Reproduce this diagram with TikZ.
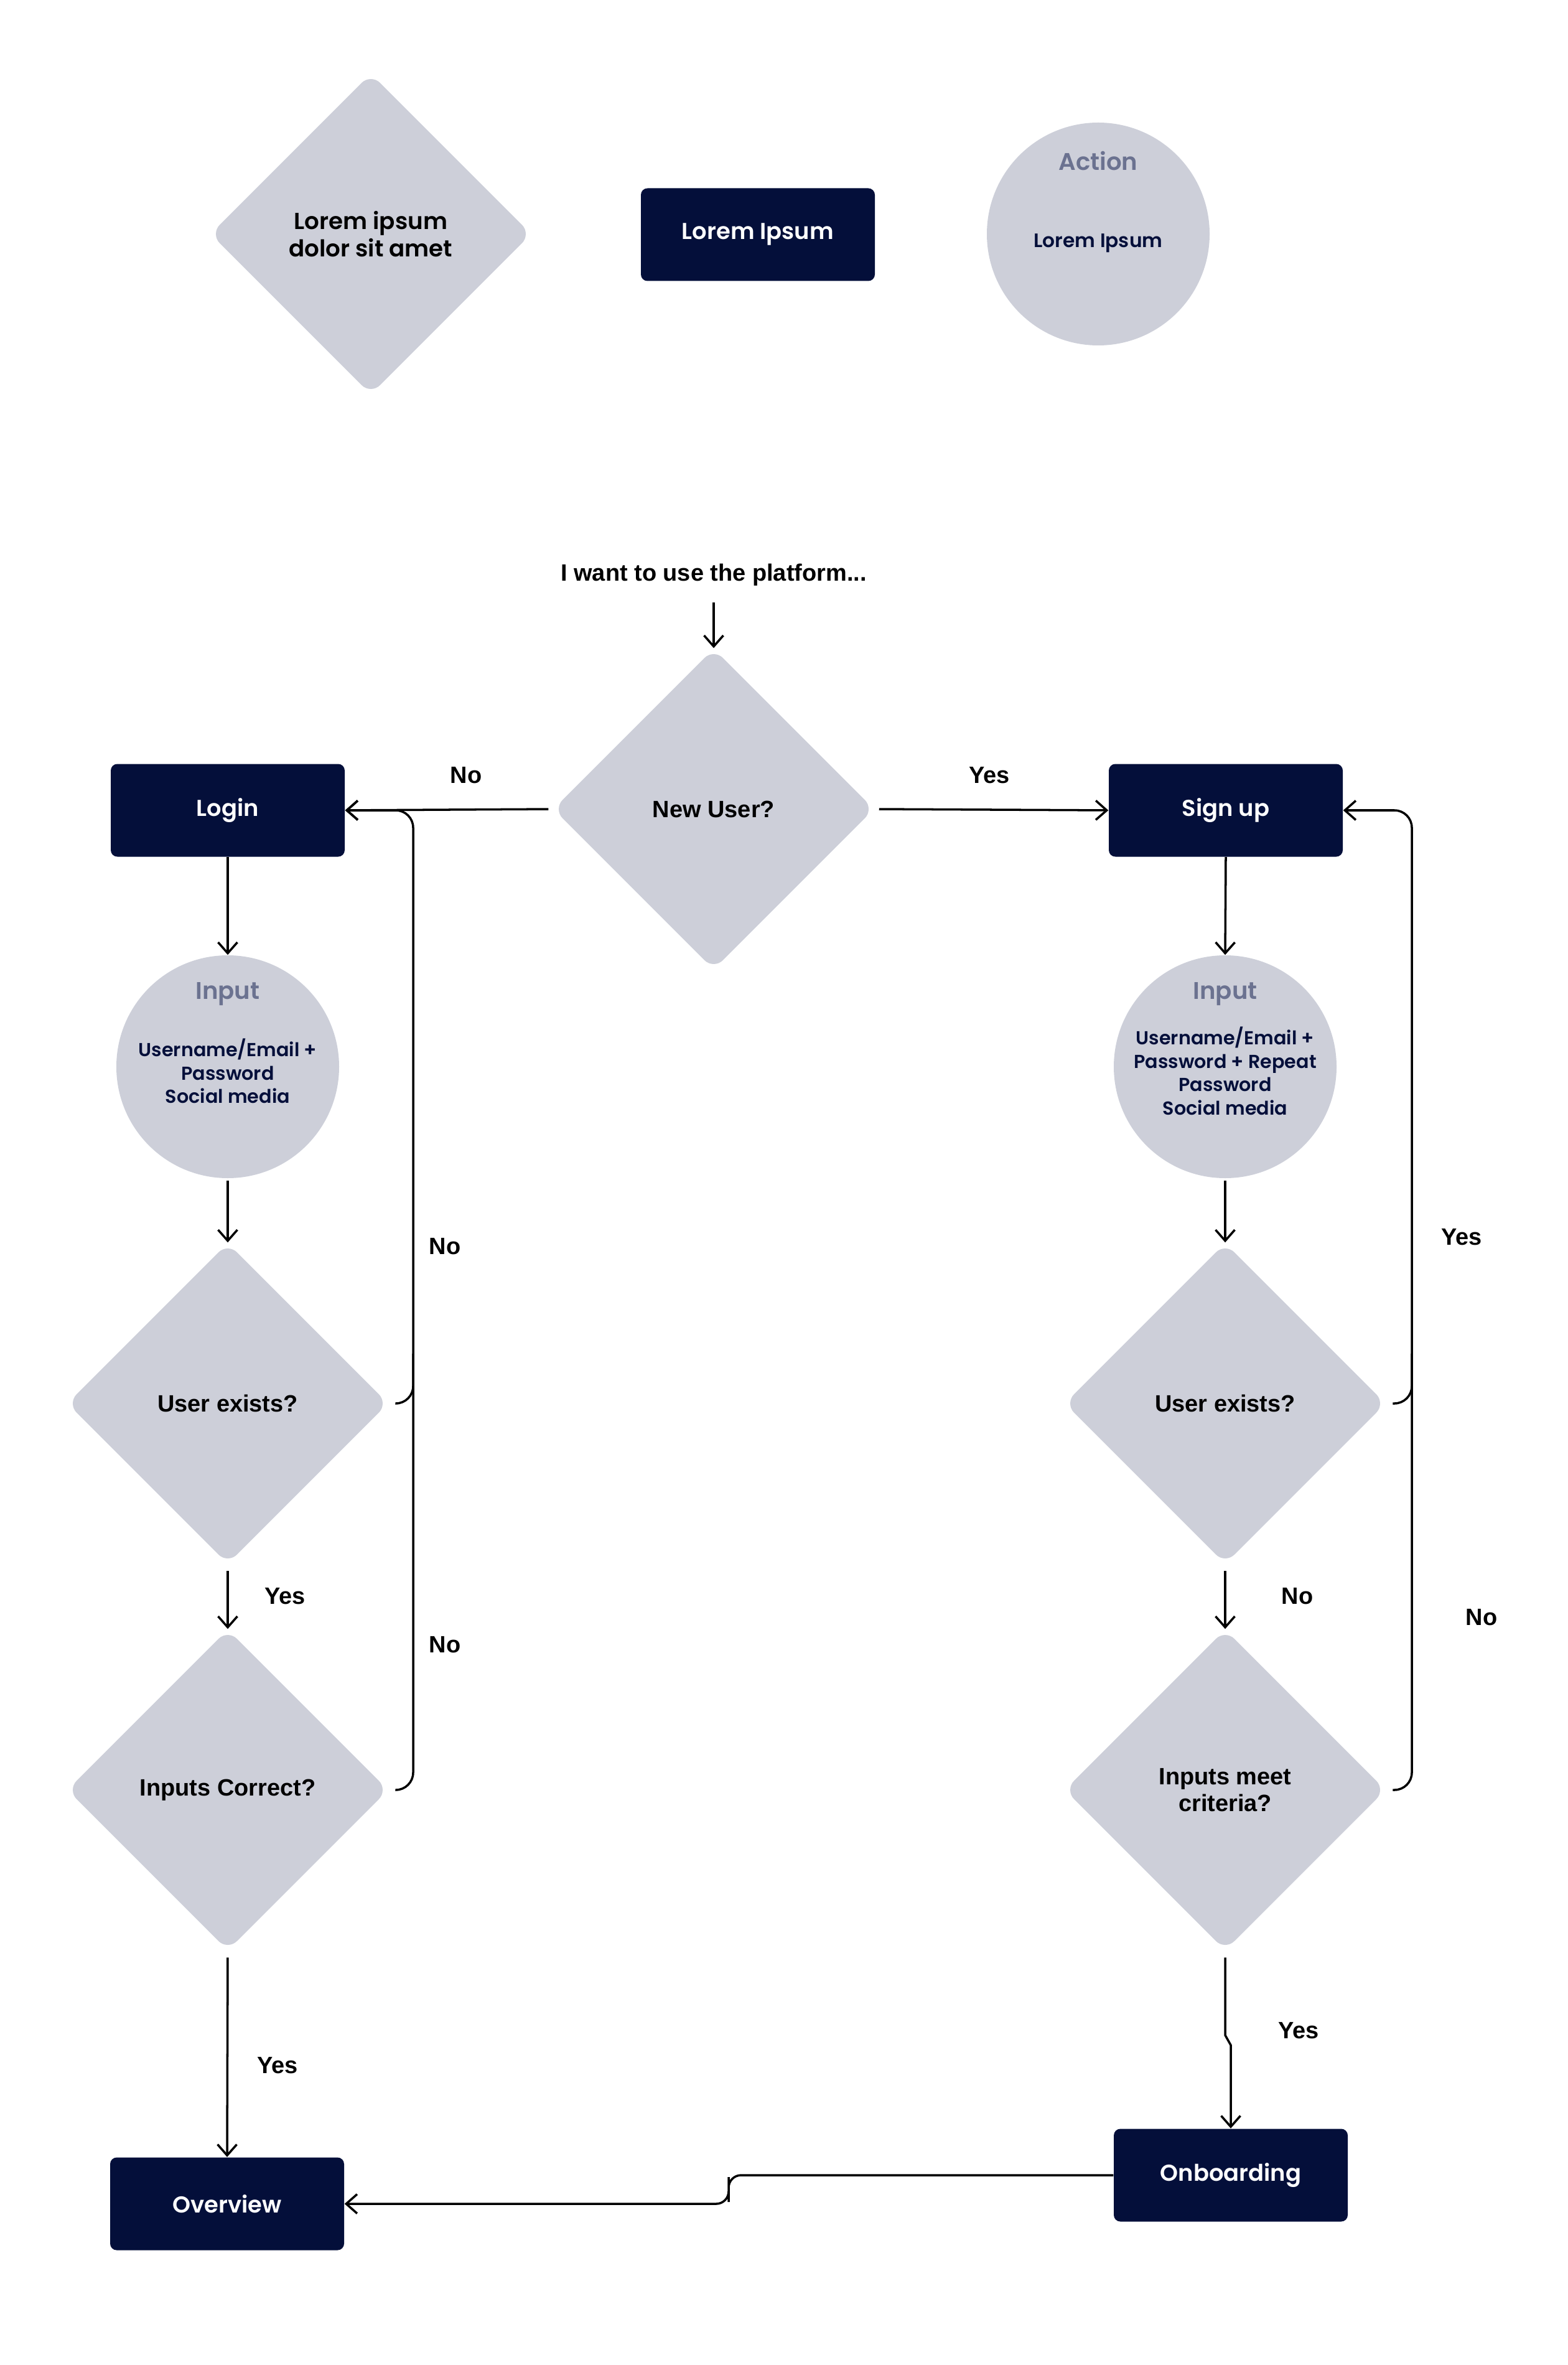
\documentclass[tikz,border=0pt]{standalone}
\usepackage{fontspec}
\usetikzlibrary{shapes.geometric,arrows.meta,calc}
\newfontfamily\labfont{Liberation Sans}
\newfontfamily\popfont{Poppins}[BoldFont={Poppins SemiBold}]
\definecolor{shapegray}{HTML}{CDCFD9}
\definecolor{navy}{HTML}{040F3A}
\definecolor{headgray}{HTML}{6B7290}
\begin{document}
\begin{tikzpicture}[
  decision/.style={diamond, fill=shapegray, minimum width=5.16cm, minimum height=5.16cm,
    inner sep=0pt, rounded corners=6pt, align=center,
    font=\labfont\bfseries\fontsize{10.8}{12.3}\selectfont},
  process/.style={rectangle, fill=navy, rounded corners=3pt, minimum width=3.76cm,
    minimum height=1.49cm, text=white, font=\popfont\bfseries\fontsize{10.5}{12}\selectfont},
  inputcirc/.style={circle, fill=shapegray, minimum size=3.58cm, inner sep=0pt},
  headtext/.style={text=headgray, font=\popfont\bfseries\fontsize{11}{13}\selectfont},
  bodytext/.style={text=navy, align=center, inner sep=0pt,
    font=\popfont\bfseries\fontsize{8.6}{10.7}\selectfont},
  lbl/.style={font=\labfont\bfseries\fontsize{10.8}{13}\selectfont},
  link/.style={line width=1pt},
  conn/.style={link, -{Straight Barb[length=5pt,width=8.8pt]}},
]
\useasboundingbox (0,0) rectangle (25.19,-38.00);

% legend row
\node[decision, font=\popfont\bfseries\fontsize{10.6}{12.3}\selectfont] (legdia) at (5.96,-3.76) {Lorem ipsum\\dolor sit amet};
\node[process] (legbox) at (12.18,-3.77) {Lorem Ipsum};
\node[inputcirc] (legcirc) at (17.65,-3.76) {};
\node[headtext] (leghead) at ($(legcirc)+(0,1.17)$) {Action};
\node[bodytext, font=\popfont\bfseries\fontsize{8.9}{10.7}\selectfont] (legbody) at ($(legcirc)+(0,-0.15)$) {Lorem Ipsum};

% entry point
\node[lbl] (start) at (11.47,-9.24) {I want to use the platform...};
\node[decision] (newuser) at (11.47,-13.00) {New User?};

% login branch
\node[process] (login) at (3.66,-13.02) {Login};
\node[inputcirc] (inL) at (3.66,-17.14) {};
\node[headtext] (inLhead) at ($(inL)+(0,1.17)$) {Input};
\node[bodytext] (inLbody) at ($(inL)+(0,-0.07)$) {Username/Email +\\Password\\Social media};
\node[decision] (ueL) at (3.66,-22.55) {User exists?};
\node[decision] (icL) at (3.66,-28.76) {Inputs Correct?};
\node[process] (overview) at (3.65,-35.41) {Overview};

% sign-up branch
\node[process] (signup) at (19.70,-13.02) {Sign up};
\node[inputcirc] (inR) at (19.69,-17.14) {};
\node[headtext] (inRhead) at ($(inR)+(0,1.17)$) {Input};
\node[bodytext] (inRbody) at ($(inR)+(0,-0.07)$) {Username/Email +\\Password + Repeat\\Password\\Social media};
\node[decision] (ueR) at (19.69,-22.55) {User exists?};
\node[decision] (crR) at (19.69,-28.76) {Inputs meet\\criteria?};
\node[process] (onboard) at (19.78,-34.95) {Onboarding};

% routing helpers
\coordinate (lbus) at (6.64,0);
\coordinate (rbus) at (22.69,0);
\coordinate (jogA) at (19.69,-32.70);
\coordinate (jogB) at (19.78,-32.86);
\coordinate (stepmid) at (11.71,-35.18);

% connectors
\draw[conn, shorten <=4pt] (start.south) -- (newuser.north);
\draw[conn, shorten <=2pt] (newuser.west) -- (login.east);
\draw[conn, shorten <=2pt] (newuser.east) -- (signup.west);

\draw[conn] (login.south) -- (inL.north);
\draw[conn, shorten <=1pt] (inL.south) -- (ueL.north);
\draw[conn, shorten <=3pt] (ueL.south) -- (icL.north);
\draw[conn, shorten <=3pt] (icL.south) -- (overview.north);
\draw[link, rounded corners=0.28cm, shorten <=3pt] (ueL.east) -- (ueL.east -| lbus) -- ($(ueL.east -| lbus)+(0,0.8)$);
\draw[conn, rounded corners=0.28cm, shorten <=3pt] (icL.east) -- (icL.east -| lbus) |- (login.east);

\draw[conn] (signup.south) -- (inR.north);
\draw[conn, shorten <=1pt] (inR.south) -- (ueR.north);
\draw[conn, shorten <=3pt] (ueR.south) -- (crR.north);
\draw[link, rounded corners=0.28cm, shorten <=3pt] (ueR.east) -- (ueR.east -| rbus) -- ($(ueR.east -| rbus)+(0,0.8)$);
\draw[conn, rounded corners=0.28cm, shorten <=3pt] (crR.east) -- (crR.east -| rbus) |- (signup.east);
\draw[conn, shorten <=3pt] (crR.south) -- (jogA) -- (jogB) -- (onboard.north);

\draw[conn, rounded corners=0.2cm] (onboard.west) -| (stepmid) |- (overview.east);

% branch labels
\node[lbl] (lNo1) at (7.49,-12.46) {No};
\node[lbl] (lYes1) at (15.90,-12.46) {Yes};
\node[lbl] (lNo2) at (7.15,-20.03) {No};
\node[lbl] (lNo3) at (7.15,-26.43) {No};
\node[lbl] (lYes2) at (4.58,-25.65) {Yes};
\node[lbl] (lYes3) at (4.46,-33.19) {Yes};
\node[lbl] (rYes1) at (23.49,-19.88) {Yes};
\node[lbl] (rNo1) at (23.81,-25.99) {No};
\node[lbl] (rNo2) at (20.85,-25.65) {No};
\node[lbl] (rYes2) at (20.87,-32.63) {Yes};
\end{tikzpicture}
\end{document}
